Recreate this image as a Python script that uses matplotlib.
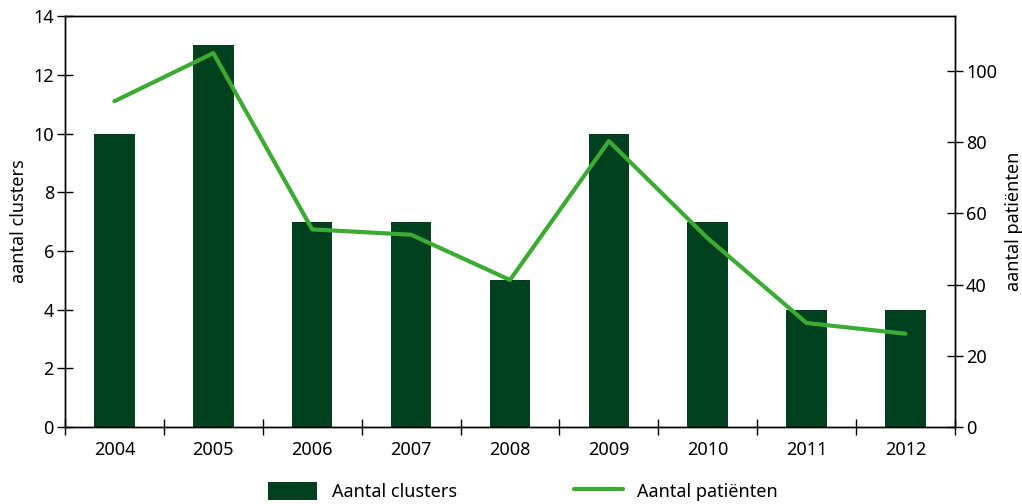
import numpy as np
import matplotlib.pyplot as plt

plt.rcParams['font.family'] = ['Noto Sans', 'DejaVu Sans']

# data
years = ['2004', '2005', '2006', '2007', '2008', '2009', '2010', '2011', '2012']
clusters = [10, 13, 7, 7, 5, 10, 7, 4, 4]
patients = [91.5, 105, 55.5, 54, 41.3, 80.3, 53, 29.2, 26.2]

bar_color = '#00401e'
line_color = '#3cab34'
fs = 13

fig = plt.figure(figsize=(10.22, 5.04), dpi=100)
ax = fig.add_axes([0.0636, 0.1528, 0.8708, 0.8152])
ax2 = ax.twinx()

x = np.arange(len(years))
ax.bar(x, clusters, width=0.41, color=bar_color, label='Aantal clusters', zorder=2)
ax2.plot(x, patients, color=line_color, linewidth=3, solid_capstyle='round',
         label='Aantal patiënten')

ax.set_xlim(-0.5, len(years) - 0.5)
ax.set_ylim(0, 14)
ax.set_yticks(range(0, 15, 2))
ax2.set_ylim(0, 115.4)
ax2.set_yticks(range(0, 101, 20))

# ticks sit between the categories, labels in the middle
ax.set_xticks(np.arange(-0.5, len(years), 1))
ax.set_xticklabels([])
ax.set_xticks(x, minor=True)
ax.set_xticklabels(years, minor=True)
ax.tick_params(axis='x', which='major', direction='inout', length=12, width=1)
ax.tick_params(axis='x', which='minor', length=0, pad=10, labelsize=fs)
ax.tick_params(axis='y', direction='inout', length=12, width=1, labelsize=fs, pad=2)
ax2.tick_params(axis='y', direction='inout', length=12, width=1, labelsize=fs, pad=2)

ax.set_ylabel('aantal clusters', fontsize=fs, labelpad=4)
ax2.set_ylabel('aantal patiënten', fontsize=fs, labelpad=6)

for a in (ax, ax2):
    for s in a.spines.values():
        s.set_linewidth(1)

h1, l1 = ax.get_legend_handles_labels()
h2, l2 = ax2.get_legend_handles_labels()
fig.legend(h1 + h2, l1 + l2, loc='center', bbox_to_anchor=(0.512, 0.025), ncol=2,
           frameon=False, fontsize=fs, columnspacing=6.5, handlelength=2.7,
           handleheight=1.2, handletextpad=0.8, borderpad=0)

fig.savefig('out.png', dpi=100)
